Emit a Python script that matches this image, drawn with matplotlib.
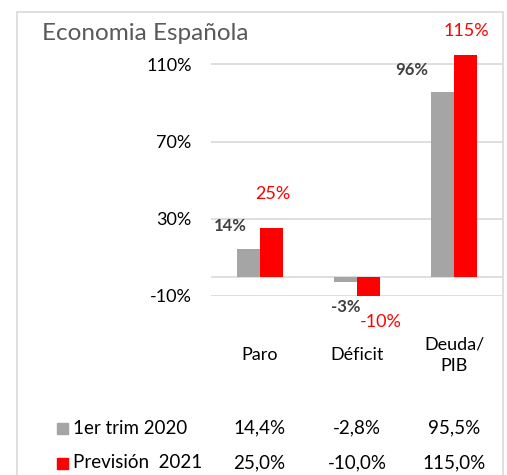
import numpy as np
import matplotlib
matplotlib.use("Agg")
import matplotlib.pyplot as plt
from matplotlib.patches import Rectangle
from matplotlib.transforms import blended_transform_factory

plt.rcParams['font.family'] = ['Lato', 'DejaVu Sans']

# data
categories = ["Paro", "Déficit", "Deuda/\nPIB"]
series_names = ["1er trim 2020", "Previsión  2021"]
trim_2020 = [14.4, -2.8, 95.5]
prev_2021 = [25.0, -10.0, 115.0]
yticks = [-10, 30, 70, 110]

GRAY = "#a5a5a5"
RED = "#ff0000"
GRID = "#d9d9d9"

W, H = 507, 475
fig = plt.figure(figsize=(W / 100, H / 100), dpi=100)

def fx(px):
    return px / W

def fy(py):
    return 1 - py / H

# outer frame
fig.patches.append(Rectangle((fx(17), fy(480)), fx(503) - fx(17), fy(12) - fy(480),
                             transform=fig.transFigure, fill=False, edgecolor=GRID, lw=1.2))

ax = fig.add_axes([fx(211), fy(296), fx(503) - fx(211), fy(45) - fy(296)])
ax.set_ylim(-10, 120)
ax.set_xlim(-0.5, 2.5)

x = np.arange(len(categories))
bw = 0.237
ax.bar(x - bw / 2, trim_2020, bw, color=GRAY, zorder=3)
ax.bar(x + bw / 2, prev_2021, bw, color=RED, zorder=3)

ax.set_yticks(yticks)
ax.set_yticklabels([f"{t}%" for t in yticks], fontsize=13)
ax.tick_params(axis='y', length=0, pad=14)
ax.set_xticks([])
ax.grid(axis='y', color=GRID, lw=1.2, zorder=0)
ax.axhline(0, color=GRID, lw=1.2, zorder=1)
for s in ax.spines.values():
    s.set_visible(False)

# data labels (offsets in pixels)
gray_off = [(-18, 23), (0, -25), (-31, 22)]
red_off = [(2, 34), (12, -26), (0, 24)]
for i in range(len(categories)):
    v = trim_2020[i]
    ax.annotate(f"{v:.0f}%", (x[i] - bw / 2, v), xytext=gray_off[i], textcoords='offset pixels',
                ha='center', va='center', fontsize=12, fontweight='bold', color="#404040")
    v = prev_2021[i]
    ax.annotate(f"{v:.0f}%", (x[i] + bw / 2, v), xytext=red_off[i], textcoords='offset pixels',
                ha='center', va='center', fontsize=13, color=RED)

# title
fig.text(fx(42), fy(34), "Economia Española", fontsize=17.5, color="#595959", va='center', ha='left')

# category labels and table
tr = blended_transform_factory(ax.transData, fig.transFigure)
for i, c in enumerate(categories):
    fig.text(x[i], fy(355), c, transform=tr, ha='center', va='center', fontsize=13,
             linespacing=1.45)
    fig.text(x[i], fy(428), f"{trim_2020[i]:.1f}%".replace('.', ','), transform=tr,
             ha='center', va='center', fontsize=13.5)
    fig.text(x[i], fy(463), f"{prev_2021[i]:.1f}%".replace('.', ','), transform=tr,
             ha='center', va='center', fontsize=13.5)

for name, col, py in zip(series_names, [GRAY, RED], [428, 463]):
    fig.patches.append(Rectangle((fx(57), fy(py + 6)), fx(11), fy(py - 5) - fy(py + 6),
                                 transform=fig.transFigure, color=col))
    fig.text(fx(73), fy(py), name, ha='left', va='center', fontsize=13.5)

fig.savefig("out.png", dpi=100)
